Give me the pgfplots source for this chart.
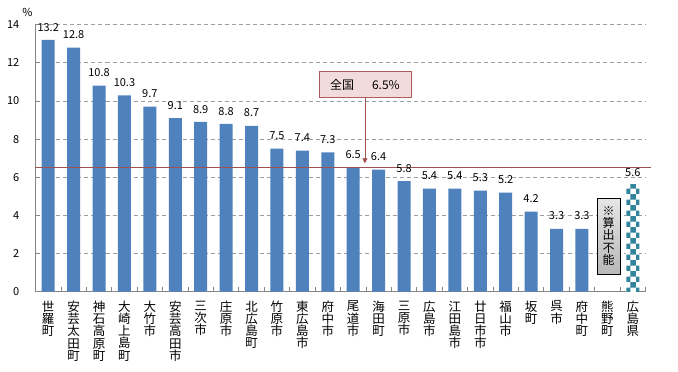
\documentclass[border=0pt]{standalone}
\usepackage{fontspec}
\setmainfont{Noto Sans CJK JP}
\usepackage{pgfplots}
\pgfplotsset{compat=1.18}
\usetikzlibrary{patterns,arrows.meta}
\definecolor{barblue}{HTML}{4F81BD}
\definecolor{refred}{HTML}{A0504F}
\definecolor{boxfill}{HTML}{F2DCDB}
\definecolor{boxdraw}{HTML}{B05A5A}
\definecolor{axgray}{HTML}{868686}
\definecolor{tealc}{HTML}{31849B}
\begin{document}
\begin{tikzpicture}
\useasboundingbox (-35.5pt,-80.3pt) rectangle (642.5pt,291.7pt);
\begin{axis}[
  at={(0pt,0pt)}, anchor=south west,
  scale only axis, width=610pt, height=267pt,
  xmin=-0.5, xmax=23.5, ymin=0, ymax=14,
  clip=false,
  axis lines=left,
  axis line style={draw=axgray, line width=0.8pt, -},
  tick align=inside,
  major tick length=4.5pt,
  tick style={draw=axgray, line width=0.8pt},
  ytick={0,2,...,14},
  ymajorgrids,
  grid style={draw=axgray!80, dash pattern=on 4pt off 3pt, line width=0.7pt},
  xtick={-0.5,0.5,...,23.5},
  xticklabels={},
  extra x ticks={0,1,...,23},
  extra x tick labels={{世\\羅\\町},{安\\芸\\太\\田\\町},{神\\石\\高\\原\\町},{大\\崎\\上\\島\\町},{大\\竹\\市},{安\\芸\\高\\田\\市},{三\\次\\市},{庄\\原\\市},{北\\広\\島\\町},{竹\\原\\市},{東\\広\\島\\市},{府\\中\\市},{尾\\道\\市},{海\\田\\町},{三\\原\\市},{広\\島\\市},{江\\田\\島\\市},{廿\\日\\市\\市},{福\\山\\市},{坂\\町},{呉\\市},{府\\中\\町},{熊\\野\\町},{広\\島\\県}},
  extra x tick style={major tick length=0pt,
    xticklabel style={font=\fontsize{12.5}{12.2}\selectfont, align=center, anchor=north, inner sep=0pt, yshift=-9pt}},
  yticklabel style={font=\fontsize{11}{11}\selectfont, inner sep=0pt, xshift=-16pt},
  /pgf/number format/assume math mode=true,
]
\addplot[ybar, bar width=13pt, bar shift=0pt, fill=barblue, draw=none,
  nodes near coords={\pgfmathprintnumber[fixed,fixed zerofill,precision=1,assume math mode=true]{\pgfplotspointmeta}},
  every node near coord/.append style={font=\fontsize{11}{11}\selectfont, anchor=south, inner sep=0pt, yshift=8.5pt, text=black}]
  coordinates {(0,13.2) (1,12.8) (2,10.8) (3,10.3) (4,9.7) (5,9.1) (6,8.9) (7,8.8) (8,8.7) (9,7.5) (10,7.4) (11,7.3) (12,6.5) (13,6.4) (14,5.8) (15,5.4) (16,5.4) (17,5.3) (18,5.2) (19,4.2) (20,3.3) (21,3.3)};
\addplot[ybar, bar width=13pt, bar shift=0pt, draw=none, fill=white,
  postaction={pattern=checkerboard, pattern color=tealc},
  nodes near coords={\pgfmathprintnumber[fixed,fixed zerofill,precision=1,assume math mode=true]{\pgfplotspointmeta}},
  every node near coord/.append style={font=\fontsize{11}{11}\selectfont, anchor=south, inner sep=0pt, yshift=8.5pt, text=black}]
  coordinates {(23,5.6)};
\addplot[sharp plot, refred, line width=1pt, mark=none, forget plot] coordinates {(-0.5,6.5) (23.7,6.5)};
\node[draw=boxdraw, fill=boxfill, line width=0.8pt, minimum width=92pt, minimum height=25.6pt, inner sep=0pt,
  font=\fontsize{12}{12}\selectfont] at (axis cs:12.46,10.86) {全国\hspace{18pt}6.5\%};
\draw[refred, line width=0.8pt, -{Triangle[length=5pt,width=5pt]}] (axis cs:12.46,10.19) -- (axis cs:12.46,6.73);
\node[draw=black, line width=0.8pt, top color=white!90!black, bottom color=white!72!black,
  minimum width=23pt, minimum height=76pt, inner sep=0pt, align=center,
  font=\fontsize{12}{12.4}\selectfont] at (axis cs:22.05,2.92) {※\\算\\出\\不\\能};
\node[font=\fontsize{11}{11}\selectfont, inner sep=0pt] at ([xshift=-8pt,yshift=12pt]rel axis cs:0,1) {\%};
\end{axis}
\end{tikzpicture}
\end{document}
